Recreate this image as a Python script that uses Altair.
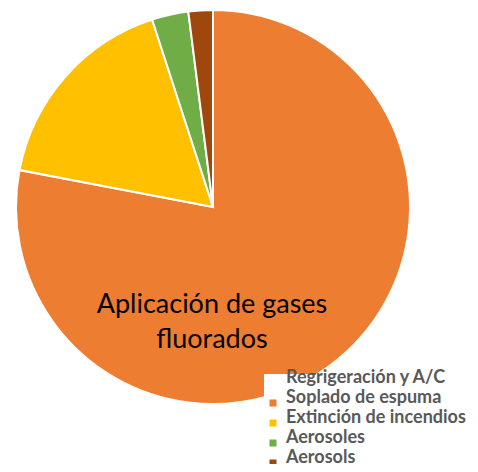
import altair as alt
import pandas as pd

categories = ["Soplado de espuma", "Extinción de incendios", "Aerosoles", "Aerosols"]
values = [78, 17, 3, 2]
legend_title = "Regrigeración y A/C"
domain = [legend_title] + categories
colors = ["#FFFFFF", "#ED7D31", "#FFC000", "#70AD47", "#9E480E"]
annotation = ["Aplicación de gases", "fluorados"]

df = pd.DataFrame({"cat": categories, "val": values, "ord": list(range(len(categories)))})

pie = alt.Chart(df).mark_arc(radius=197, stroke="white", strokeWidth=2).encode(
    theta=alt.Theta("val:Q", stack=True),
    order=alt.Order("ord:Q"),
    x=alt.value(205),
    y=alt.value(199),
    color=alt.Color(
        "cat:N",
        scale=alt.Scale(domain=domain, range=colors),
        legend=alt.Legend(
            title=None,
            orient="none",
            legendX=256,
            legendY=366,
            fillColor="white",
            padding=0,
            symbolType="square",
            symbolSize=49,
            symbolStrokeWidth=0,
            labelOffset=4,
            labelFont="Lato",
            labelFontSize=18,
            labelFontWeight="bold",
            labelColor="#595959",
            labelBaseline="alphabetic",
            labelLimit=400,
            rowPadding=2,
        ),
    ),
)

txt = alt.Chart(pd.DataFrame({"t": [annotation]})).mark_text(
    font="Lato", fontSize=27, color="black", align="center", baseline="alphabetic", lineHeight=35
).encode(text="t", x=alt.value(204), y=alt.value(305))

chart = alt.layer(pie, txt).properties(
    width=462, height=456, padding=0, autosize=alt.AutoSizeParams(type="none")
).configure_view(stroke=None)

chart.save("out.html", embed_options={"renderer": "svg", "actions": False})
